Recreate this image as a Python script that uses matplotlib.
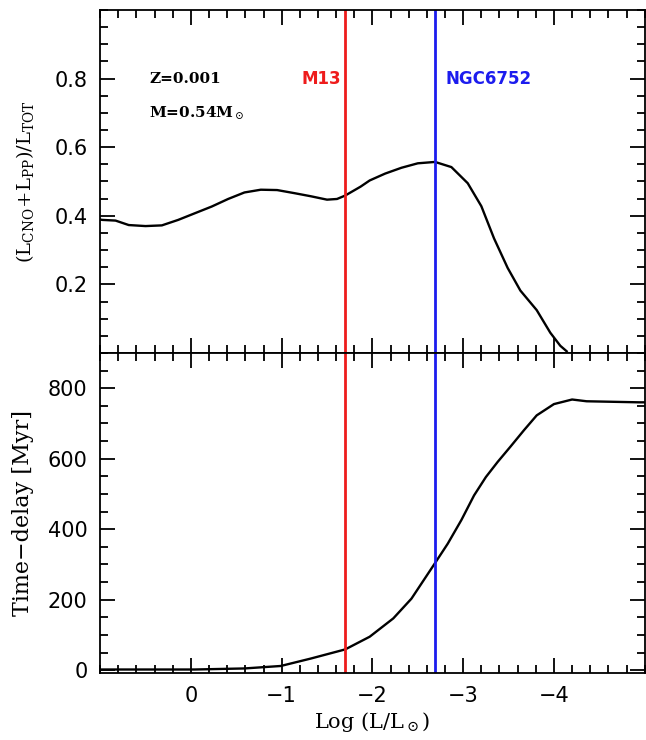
import numpy as np
import matplotlib.pyplot as plt
from matplotlib.ticker import MultipleLocator

# Top panel: (L_CNO + L_PP) / L_TOT vs log L
logl_top = [1.0, 0.976, 0.83, 0.685, 0.50, 0.32, 0.14, -0.04, -0.23, -0.41, -0.59,
            -0.77, -0.95, -1.14, -1.32, -1.50, -1.61, -1.70, -1.87, -1.97, -2.14,
            -2.32, -2.50, -2.69, -2.87, -3.05, -3.20, -3.34, -3.49, -3.63, -3.81,
            -3.96, -4.07, -4.14]
frac_top = [0.389, 0.388, 0.386, 0.373, 0.370, 0.372, 0.388, 0.407, 0.427, 0.449, 0.468,
            0.476, 0.475, 0.466, 0.457, 0.447, 0.449, 0.459, 0.485, 0.503, 0.523,
            0.540, 0.553, 0.557, 0.542, 0.495, 0.428, 0.334, 0.248, 0.182, 0.125,
            0.059, 0.021, 0.005]

# Bottom panel: time delay [Myr] vs log L
logl_bot = [1.0, 0.5, -0.04, -0.59, -0.99, -1.32, -1.70, -1.97, -2.23, -2.43, -2.69,
            -2.83, -2.98, -3.12, -3.25, -3.38, -3.52, -3.67, -3.81, -4.00, -4.20,
            -4.36, -4.94, -5.0]
delay_bot = [2, 2, 2, 5, 12, 33, 59, 95, 147, 203, 304,
             359, 426, 496, 548, 591, 634, 681, 723, 755, 768,
             763, 760, 760]

# cluster tip luminosities
m13_x = -1.70
ngc_x = -2.69

plt.rcParams['mathtext.fontset'] = 'dejavuserif'

fig = plt.figure(figsize=(6.46, 7.40), dpi=100)
ax1 = fig.add_axes([0.155, 0.523, 0.843, 0.4635])
ax2 = fig.add_axes([0.155, 0.0905, 0.843, 0.4325], sharex=ax1)

ax1.plot(logl_top, frac_top, color='black', lw=1.7)
ax2.plot(logl_bot, delay_bot, color='black', lw=1.7)

for ax in (ax1, ax2):
    ax.axvline(m13_x, color='#ee1c1c', lw=2)
    ax.axvline(ngc_x, color='#1c1cee', lw=2)
    ax.set_xlim(1.0, -5.0)
    ax.xaxis.set_major_locator(MultipleLocator(1))
    ax.xaxis.set_minor_locator(MultipleLocator(0.2))
    ax.tick_params(which='both', direction='in', top=True, right=True,
                   labelsize=15, width=1.3, pad=9)
    ax.tick_params(which='major', length=10.5)
    ax.tick_params(which='minor', length=5.5)
    for s in ax.spines.values():
        s.set_linewidth(1.3)

ax1.set_ylim(0, 1.0)
ax1.set_yticks([0.2, 0.4, 0.6, 0.8])
ax1.yaxis.set_minor_locator(MultipleLocator(0.05))
ax1.tick_params(labelbottom=False)
ax1.set_ylabel(r'$(\mathrm{L_{CNO}\!+\!L_{PP}})/\mathrm{L_{TOT}}$', fontsize=14,
               family='DejaVu Serif')
ax1.yaxis.set_label_coords(-0.118, 0.5)

ax2.set_ylim(-8, 900)
ax2.set_yticks([0, 200, 400, 600, 800])
ax2.yaxis.set_minor_locator(MultipleLocator(50))
ax2.set_xticks([0, -1, -2, -3, -4])
ax2.set_xticklabels(['0', '\u22121', '\u22122', '\u22123', '\u22124'])
ax2.set_ylabel('Time\u2212delay [Myr]', fontsize=16, family='DejaVu Serif')
ax2.yaxis.set_label_coords(-0.122, 0.5)
ax2.set_xlabel(r'Log (L/L$_\odot$)', fontsize=15, family='DejaVu Serif')
ax2.xaxis.set_label_coords(0.5, -0.115)

ax1.text(0.46, 0.8, 'Z=0.001', fontsize=11, family='DejaVu Serif',
         fontweight='bold', va='center', ha='left')
ax1.text(0.46, 0.70, r'M=0.54M$_\odot$', fontsize=11, family='DejaVu Serif',
         fontweight='bold', va='center', ha='left')
ax1.text(-1.22, 0.8, 'M13', fontsize=12, color='#ee1c1c', fontweight='bold',
         va='center', ha='left')
ax1.text(-2.8, 0.8, 'NGC6752', fontsize=12, color='#1c1cee', fontweight='bold',
         va='center', ha='left')

fig.savefig('out.png', dpi=100)
